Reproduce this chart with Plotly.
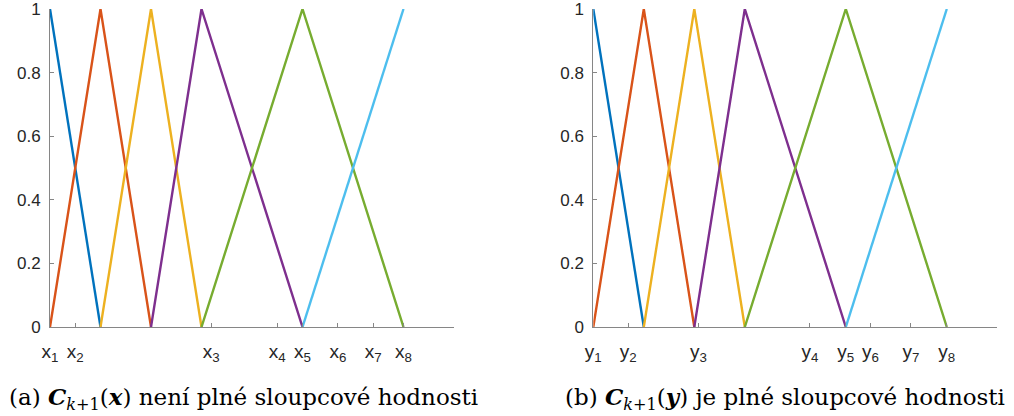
import plotly.graph_objects as go

# membership functions (node positions on x axis and values)
series_x = [
    [0, 1],
    [0, 1, 2],
    [1, 2, 3],
    [2, 3, 5],
    [3, 5, 7],
    [5, 7],
]
series_y = [
    [1, 0],
    [0, 1, 0],
    [0, 1, 0],
    [0, 1, 0],
    [0, 1, 0],
    [0, 1],
]
colors = ["#0072BD", "#D95319", "#EDB120", "#7E2F8E", "#77AC30", "#4DBEEE"]

# tick positions for the two panels
x_tickvals = [0, 0.5, 3.19, 4.5, 5.0, 5.7, 6.4, 7.0]
y_tickvals = [0, 0.69, 2.08, 4.29, 5.0, 5.49, 6.29, 7.0]
x_ticktext = [f"x<sub>{i}</sub>" for i in range(1, 9)]
y_ticktext = [f"y<sub>{i}</sub>" for i in range(1, 9)]

yticks = [0, 0.2, 0.4, 0.6, 0.8, 1]
yticktext = ["0", "0.2", "0.4", "0.6", "0.8", "1"]

captions = [
    "(a) <b><i>C</i></b><sub><i>k</i>+1</sub>(<b><i>x</i></b>) není plné sloupcové hodnosti",
    "(b) <b><i>C</i></b><sub><i>k</i>+1</sub>(<b><i>y</i></b>) je plné sloupcové hodnosti",
]

W, H = 1014, 416
fig = go.Figure()

for panel in range(2):
    xa = "x" if panel == 0 else "x2"
    ya = "y" if panel == 0 else "y2"
    for sx, sy, c in zip(series_x, series_y, colors):
        fig.add_trace(go.Scatter(x=sx, y=sy, mode="lines", xaxis=xa, yaxis=ya,
                                 line=dict(color=c, width=2.4), showlegend=False,
                                 hoverinfo="skip"))

dom_y = [(416 - 327) / H, (416 - 9) / H]
dom_x1 = [50 / W, 454 / W]
dom_x2 = [593.3 / W, 997.3 / W]

axis_common = dict(showline=True, linecolor="#868686", linewidth=1, ticks="inside",
                   tickcolor="#868686", ticklen=4, showgrid=False, zeroline=False,
                   automargin=False, ticklabeloverflow="allow")
yfont = dict(family="Liberation Sans, Arial, sans-serif", size=17, color="#262626")
xfont = dict(family="Liberation Sans, Arial, sans-serif", size=19, color="#262626")

fig.update_layout(
    width=W, height=H, margin=dict(l=0, r=0, t=0, b=0, autoexpand=False),
    paper_bgcolor="white", plot_bgcolor="white",
    xaxis=dict(domain=dom_x1, range=[0, 8], tickvals=x_tickvals, ticktext=x_ticktext,
               anchor="y", ticklabelstandoff=7, tickfont=xfont, **axis_common),
    yaxis=dict(domain=dom_y, range=[0, 1], tickvals=yticks, ticktext=yticktext,
               anchor="x", ticklabelstandoff=5, tickfont=yfont, **axis_common),
    xaxis2=dict(domain=dom_x2, range=[0, 8], tickvals=y_tickvals, ticktext=y_ticktext,
                anchor="y2", ticklabelstandoff=7, tickfont=xfont, **axis_common),
    yaxis2=dict(domain=dom_y, range=[0, 1], tickvals=yticks, ticktext=yticktext,
                anchor="x2", ticklabelstandoff=5, tickfont=yfont, **axis_common),
)

cap_font = dict(family="DejaVu Serif, serif", size=23, color="black")
fig.add_annotation(text=captions[0], xref="paper", yref="paper", x=243 / W, y=(416 - 398) / H,
                   xanchor="center", yanchor="middle", showarrow=False, font=cap_font)
fig.add_annotation(text=captions[1], xref="paper", yref="paper", x=785 / W, y=(416 - 398) / H,
                   xanchor="center", yanchor="middle", showarrow=False, font=cap_font)

fig.write_html("out.html")
